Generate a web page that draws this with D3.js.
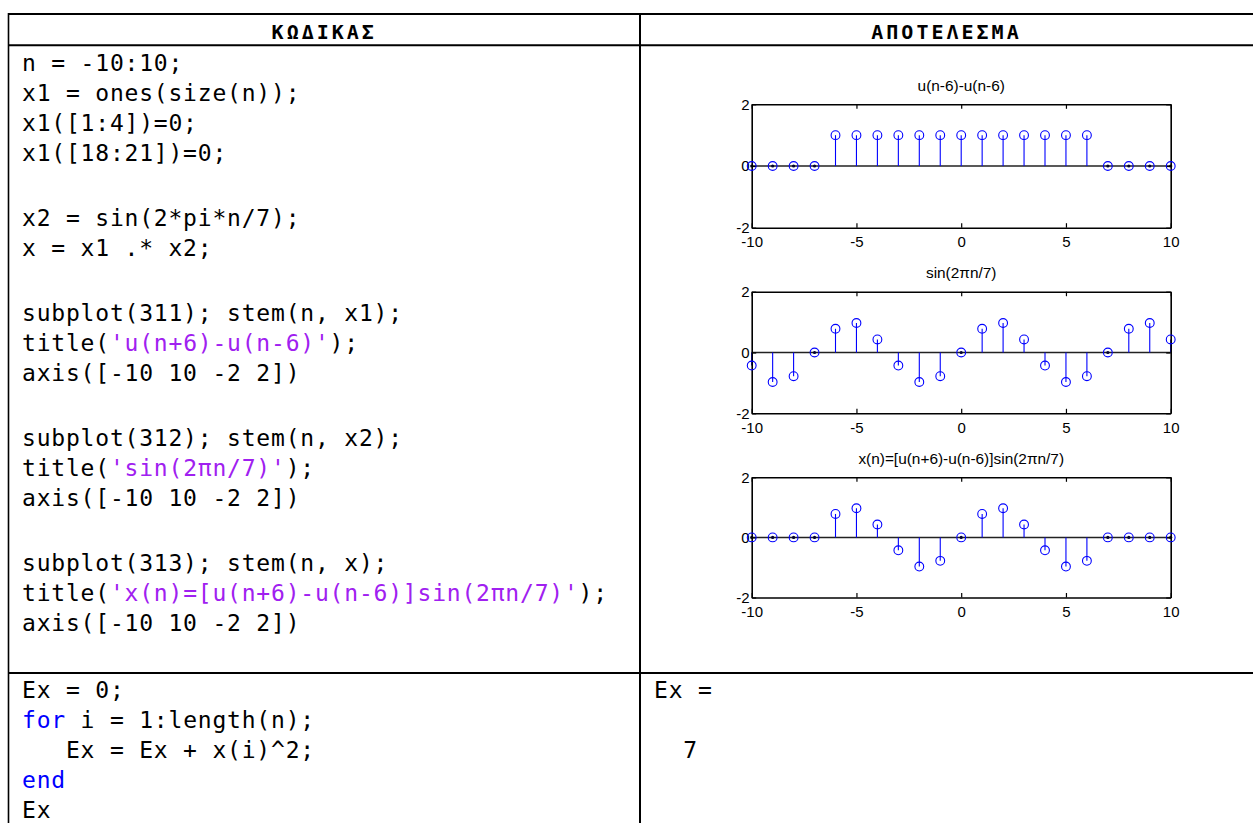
<!DOCTYPE html>
<html>
<head>
<meta charset="utf-8">
<script src="https://cdn.jsdelivr.net/npm/d3@7"></script>
<style>
  html, body { margin: 0; padding: 0; background: #fff; }
  svg { display: block; }
  .code { font-family: "DejaVu Sans Mono", monospace; font-size: 23px; letter-spacing: 0.8px; white-space: pre; fill: #000; }
  .head { font-family: "DejaVu Sans Mono", monospace; font-weight: bold; font-size: 20px; letter-spacing: 3px; fill: #000; }
  .plot text { font-family: "Liberation Sans", Arial, sans-serif; fill: #000; }
</style>
</head>
<body>
<script>
// ---- data -------------------------------------------------------------
const n  = [-10, -9, -8, -7, -6, -5, -4, -3, -2, -1, 0, 1, 2, 3, 4, 5, 6, 7, 8, 9, 10];
const x1 = [0, 0, 0, 0, 1, 1, 1, 1, 1, 1, 1, 1, 1, 1, 1, 1, 1, 0, 0, 0, 0];
const x2 = [-0.43, -0.97, -0.78, 0, 0.78, 0.97, 0.43, -0.43, -0.97, -0.78, 0,
            0.78, 0.97, 0.43, -0.43, -0.97, -0.78, 0, 0.78, 0.97, 0.43];
const x  = [0, 0, 0, 0, 0.78, 0.97, 0.43, -0.43, -0.97, -0.78, 0,
            0.78, 0.97, 0.43, -0.43, -0.97, -0.78, 0, 0, 0, 0];
const xTicks = [-10, -5, 0, 5, 10];
const yTicks = [-2, 0, 2];
const xDomain = [-10, 10];
const yDomain = [-2, 2];
const titles = ["u(n-6)-u(n-6)", "sin(2πn/7)", "x(n)=[u(n+6)-u(n-6)]sin(2πn/7)"];
const series = [x1, x2, x];
const headers = ["ΚΩΔΙΚΑΣ", "ΑΠΟΤΕΛΕΣΜΑ"];
const energy = 7;

// MATLAB source, one entry per line; each line is a list of [text, colour role]
const STR = "str", KW = "kw", TXT = "txt";
const codeLines = [
  [["n = -10:10;", TXT]],
  [["x1 = ones(size(n));", TXT]],
  [["x1([1:4])=0;", TXT]],
  [["x1([18:21])=0;", TXT]],
  [],
  [["x2 = sin(2*pi*n/7);", TXT]],
  [["x = x1 .* x2;", TXT]],
  [],
  [["subplot(311); stem(n, x1);", TXT]],
  [["title(", TXT], ["'u(n+6)-u(n-6)'", STR], [");", TXT]],
  [["axis([-10 10 -2 2])", TXT]],
  [],
  [["subplot(312); stem(n, x2);", TXT]],
  [["title(", TXT], ["'sin(2πn/7)'", STR], [");", TXT]],
  [["axis([-10 10 -2 2])", TXT]],
  [],
  [["subplot(313); stem(n, x);", TXT]],
  [["title(", TXT], ["'x(n)=[u(n+6)-u(n-6)]sin(2πn/7)'", STR], [");", TXT]],
  [["axis([-10 10 -2 2])", TXT]]
];
const loopLines = [
  [["Ex = 0;", TXT]],
  [["for", KW], [" i = 1:length(n);", TXT]],
  [["   Ex = Ex + x(i)^2;", TXT]],
  [["end", KW]],
  [["Ex", TXT]]
];
const outputLines = [
  [["Ex =", TXT]],
  [],
  [["  " + energy, TXT]]
];

// ---- layout -----------------------------------------------------------
const W = 1253, H = 823;
const colours = { txt: "#000", str: "#a020f0", kw: "#0000ff" };
const table = { left: 8.5, top: 14, headBottom: 45.3, mid: 640, row: 673, right: W, bottom: H };

const svg = d3.select("body").append("svg")
  .attr("width", W).attr("height", H)
  .attr("viewBox", `0 0 ${W} ${H}`);

svg.append("rect").attr("width", W).attr("height", H).attr("fill", "#fff");

// table rules
const rules = [
  [table.left, table.top, table.right, table.top, 2],
  [table.left, table.headBottom, table.right, table.headBottom, 2],
  [table.left, table.row, table.right, table.row, 1.8],
  [table.left, table.top - 1, table.left, table.bottom, 1.6],
  [table.mid, table.top - 1, table.mid, table.bottom, 2]
];
svg.append("g").selectAll("line").data(rules).join("line")
  .attr("x1", d => d[0]).attr("y1", d => d[1])
  .attr("x2", d => d[2]).attr("y2", d => d[3])
  .attr("stroke", "#000").attr("stroke-width", d => d[4]);

// header cells
svg.append("g").selectAll("text").data(headers).join("text")
  .attr("class", "head")
  .attr("x", (d, i) => i === 0 ? (table.left + table.mid) / 2 : (table.mid + table.right) / 2)
  .attr("y", 38.5)
  .attr("text-anchor", "middle")
  .text(d => d);

// code blocks
function codeBlock(lines, x0, y0, step, blankStep) {
  const g = svg.append("g");
  let y = y0;
  lines.forEach(parts => {
    if (parts.length) {
      const t = g.append("text").attr("class", "code").attr("x", x0).attr("y", y);
      parts.forEach(([s, role]) => t.append("tspan").attr("fill", colours[role]).text(s));
      y += step;
    } else {
      y += blankStep;
    }
  });
}
codeBlock(codeLines, 22, 71, 30, 35);
codeBlock(loopLines, 22, 698, 30, 30);
codeBlock(outputLines, 654, 698, 30, 30);

// ---- stem plots ---------------------------------------------------------
const plotLeft = 751.7, plotRight = 1170.7;
const panels = [
  { top: 104.3, bottom: 227.7 },
  { top: 291.7, bottom: 413.3 },
  { top: 477.3, bottom: 597.5 }
];
const xs = d3.scaleLinear().domain(xDomain).range([plotLeft, plotRight]);
const plain = d => String(d);

panels.forEach((p, k) => {
  const ys = d3.scaleLinear().domain(yDomain).range([p.bottom, p.top]);
  const vals = series[k];
  const pts = n.map((v, i) => ({ n: v, v: vals[i] }));
  const g = svg.append("g").attr("class", "plot");

  // title
  g.append("text")
    .attr("x", (plotLeft + plotRight) / 2)
    .attr("y", p.top - 13.5)
    .attr("text-anchor", "middle")
    .attr("font-size", 15.4)
    .text(titles[k]);

  // baseline
  g.append("line")
    .attr("x1", xs(xDomain[0])).attr("x2", xs(xDomain[1]))
    .attr("y1", ys(0)).attr("y2", ys(0))
    .attr("stroke", "#222").attr("stroke-width", 1.5);

  // stems
  g.append("g").selectAll("line").data(pts.filter(d => d.v !== 0)).join("line")
    .attr("x1", d => xs(d.n)).attr("x2", d => xs(d.n))
    .attr("y1", ys(0)).attr("y2", d => ys(d.v))
    .attr("stroke", "#0000ff").attr("stroke-width", 1.1);

  // zero-length stems show as a dot
  g.append("g").selectAll("circle").data(pts.filter(d => d.v === 0)).join("circle")
    .attr("cx", d => xs(d.n)).attr("cy", d => ys(d.v))
    .attr("r", 1.6).attr("fill", "#000033");

  // axes (box with inward ticks)
  const axFont = sel => sel.attr("font-family", null).attr("font-size", null);
  g.append("g").attr("transform", `translate(0,${p.bottom})`)
    .call(d3.axisBottom(xs).tickValues(xTicks).tickFormat(plain).tickSizeInner(-4.5).tickSizeOuter(0).tickPadding(9))
    .call(axFont)
    .call(s => s.selectAll("text").attr("font-size", 15));
  g.append("g").attr("transform", `translate(0,${p.top})`)
    .call(d3.axisTop(xs).tickValues(xTicks).tickSizeInner(-4.5).tickSizeOuter(0).tickFormat(""))
    .call(axFont);
  g.append("g").attr("transform", `translate(${plotLeft},0)`)
    .call(d3.axisLeft(ys).tickValues(yTicks).tickFormat(plain).tickSizeInner(-4.5).tickSizeOuter(0).tickPadding(2))
    .call(axFont)
    .call(s => s.selectAll("text").attr("font-size", 15));
  g.append("g").attr("transform", `translate(${plotRight},0)`)
    .call(d3.axisRight(ys).tickValues(yTicks).tickSizeInner(-4.5).tickSizeOuter(0).tickFormat(""))
    .call(axFont);
  g.selectAll(".domain").attr("stroke", "#000").attr("stroke-width", 1.6);
  g.selectAll(".tick line").attr("stroke", "#000").attr("stroke-width", 1.2);

  // markers
  g.append("g").selectAll("circle").data(pts).join("circle")
    .attr("cx", d => xs(d.n)).attr("cy", d => ys(d.v))
    .attr("r", 4.4).attr("fill", "none")
    .attr("stroke", "#0000ff").attr("stroke-width", 1.1);
});
</script>
</body>
</html>
